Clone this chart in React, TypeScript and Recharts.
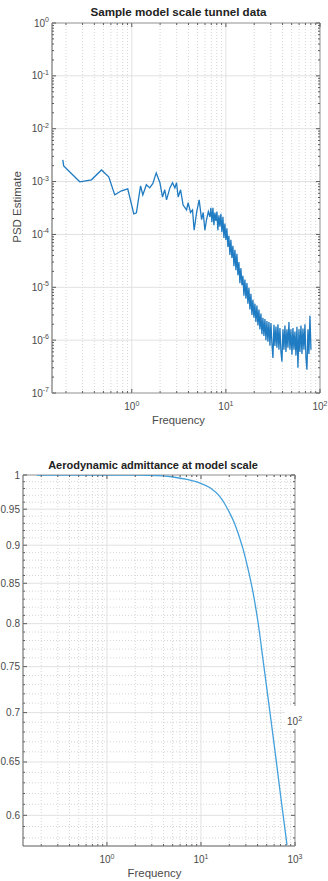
import React from "react";
import { LineChart, Line, XAxis, YAxis, ReferenceLine, ReferenceArea } from "recharts";

// PSD of the tunnel signal
const psdFreq = [
  0.185, 0.189, 0.28, 0.373, 0.476, 0.569, 0.659, 0.777, 0.906, 1.05, 1.12, 1.24, 1.31, 1.43, 1.55,
  1.67, 1.82, 1.99, 2.12, 2.24, 2.34, 2.54, 2.71, 2.87, 2.99, 3.11, 3.3, 3.51, 3.82, 3.97, 4.21,
  4.42, 4.6, 4.88, 5.2, 5.52, 5.74, 5.98, 6.23, 6.51,
  6.76, 6.93, 7.1, 7.28, 7.46, 7.64, 7.83, 8.03, 8.22, 8.43, 8.64, 8.85, 9.07, 9.3, 9.53, 9.76,
  10.0, 10.25, 10.5, 10.76, 11.03, 11.3, 11.58, 11.87, 12.17, 12.47, 12.78, 13.09, 13.42, 13.75,
  14.09, 14.44, 14.8, 15.17, 15.54, 15.93, 16.32, 16.73, 17.14, 17.57, 18.0, 18.45, 18.9, 19.37,
  19.85, 20.35, 20.85, 21.37, 21.9, 22.44, 23.0, 23.57, 24.15, 24.75, 25.36, 25.99, 26.64, 27.3,
  27.97, 28.67, 29.38, 30.1, 30.85, 31.62, 32.4, 33.2, 34.03, 34.87, 35.73, 36.62, 37.53, 38.46,
  39.41, 40.39, 41.39, 42.41, 43.46, 44.54, 45.64, 46.77, 47.93, 49.12, 50.34, 51.58, 52.86,
  54.17, 55.51, 56.89, 58.3, 59.74, 61.22, 62.74, 64.29, 65.88, 67.52, 69.19, 70.9, 72.66, 74.46,
  76.3, 78.19, 80.13,
];
const psdValue = [
  2.57e-3, 1.98e-3, 0.99e-3, 1.08e-3, 1.66e-3, 1.23e-3, 5.6e-4, 6.7e-4, 7.3e-4, 2.45e-4, 2.56e-4,
  8.3e-4, 5.6e-4, 8.7e-4, 7.6e-4, 9.1e-4, 1.46e-3, 9.5e-4, 5.1e-4, 7.0e-4, 4.5e-4, 7.6e-4, 9.5e-4,
  7.6e-4, 9.5e-4, 5.1e-4, 7.0e-4, 3.6e-4, 2.9e-4, 4.0e-4, 2.6e-4, 2.9e-4, 1.2e-4, 2.6e-4, 4.5e-4,
  1.9e-4, 2.6e-4, 1.2e-4, 1.9e-4, 2.7e-4,
  2.15e-4, 3.2e-4, 1.7e-4, 3.2e-4, 1.5e-4, 2.6e-4, 1.8e-4, 2.7e-4, 1.2e-4, 2.3e-4, 1.4e-4, 2.45e-4,
  1.1e-4, 2.15e-4, 8.6e-5, 1.6e-4, 7.9e-5, 1.3e-4, 5.8e-5, 9.4e-5, 4.1e-5, 7.9e-5, 3.6e-5, 6.1e-5,
  2.5e-5, 5.1e-5, 2.1e-5, 4.3e-5, 1.7e-5, 3.0e-5, 1.2e-5, 2.3e-5, 1.1e-5, 1.65e-5, 6.9e-6, 1.4e-5,
  6.1e-6, 1.2e-5, 4.9e-6, 9.8e-6, 3.8e-6, 7.5e-6, 3.0e-6, 5.8e-6, 2.65e-6, 4.9e-6, 2.2e-6, 4.5e-6,
  1.9e-6, 3.8e-6, 1.6e-6, 3.2e-6, 1.3e-6, 2.65e-6, 1.2e-6, 2.5e-6, 1.0e-6, 2.3e-6, 9.3e-7, 2.2e-6,
  7.8e-7, 2.1e-6, 8.5e-7, 4.6e-7, 1.95e-6, 7.8e-7, 1.8e-6, 7.2e-7, 2.0e-6, 6.6e-7, 1.7e-6, 6.0e-7,
  3.9e-7, 1.6e-6, 6.6e-7, 1.9e-6, 6.0e-7, 1.6e-6, 7.2e-7, 2.2e-6, 6.6e-7, 1.6e-6, 5.3e-7, 1.7e-6,
  6.6e-7, 1.45e-6, 5.1e-7, 1.8e-6, 3.0e-7, 1.6e-6, 6.0e-7, 1.9e-6, 5.5e-7, 1.65e-6, 6.6e-7, 2.0e-6,
  4.6e-7, 2.75e-7, 1.6e-6, 5.5e-7, 2.9e-6, 6.6e-7,
];

// aerodynamic admittance, same frequencies
const admFreq = [
  0.18, 0.5, 1, 2, 2.87, 5.04, 7.1, 9.76, 12.5, 15.9, 18.0, 20.3, 21.9, 26.0, 28.0, 31.6, 35.7, 40.4,
  45.7, 54.2, 62.8, 71.0, 82.2,
];
const admValue = [
  1, 1, 1, 0.9998, 0.9995, 0.997, 0.9933, 0.988, 0.981, 0.968, 0.957, 0.944, 0.935, 0.9085, 0.895,
  0.869, 0.839, 0.802, 0.758, 0.7, 0.653, 0.615, 0.574,
];

// ticks
const psdXMajor = [1, 10, 100];
const psdXExp = ["0", "1", "2"];
const psdYMajor = [1e-7, 1e-6, 1e-5, 1e-4, 1e-3, 1e-2, 1e-1, 1];
const psdYExp = ["-7", "-6", "-5", "-4", "-3", "-2", "-1", "0"];

const admXMajor = [1, 10, 100];
const admXExp = ["0", "1", "3"];
const admYMajor = [0.6, 0.65, 0.7, 0.75, 0.8, 0.85, 0.9, 0.95, 1];
const admYText = ["0.6", "0.65", "0.7", "0.75", "0.8", "0.85", "0.9", "0.95", "1"];

const logMinor = (decades: number[]) =>
  decades.flatMap((d) => [2, 3, 4, 5, 6, 7, 8, 9].map((m) => +(m * d).toPrecision(3)));
const xMinor = logMinor([0.1, 1, 10]);
const psdYMinor = logMinor([1e-7, 1e-6, 1e-5, 1e-4, 1e-3, 1e-2, 1e-1]);
const admYMinor = Array.from({ length: 42 }, (_, i) => 58 + i).filter((i) => i % 5 !== 0).map((i) => i / 100);

const psdData = psdFreq.map((f, i) => ({ f, v: psdValue[i] }));
const admData = admFreq.map((f, i) => ({ f, v: admValue[i] }));

const AXIS = "#5a5a5a";
const TEXT = "#4a4a4a";
const GRID = "#e1e1e1";
const MINOR = "#d6d6d6";
const FONT = "'Liberation Sans', Arial, Helvetica, sans-serif";

type Frame = { left: number; right: number; top: number; bottom: number };

const pow10 = (x: number, y: number, exp: string, anchor: "middle" | "end") => (
  <text x={x} y={y} textAnchor={anchor} fontSize={10} fill={TEXT} fontFamily={FONT}>
    10
    <tspan dy={-4.5} fontSize={7}>
      {exp}
    </tspan>
  </text>
);

function makeXTick(frame: Frame, majors: number[], exps: string[], labelY: number) {
  return (props: any) => {
    const { x, payload } = props;
    const i = majors.indexOf(payload.value);
    const len = i >= 0 ? 4 : 2;
    return (
      <g>
        <line x1={x} x2={x} y1={frame.bottom} y2={frame.bottom - len} stroke={AXIS} />
        <line x1={x} x2={x} y1={frame.top} y2={frame.top + len} stroke={AXIS} />
        {i >= 0 && pow10(x, labelY, exps[i], "middle")}
      </g>
    );
  };
}

function makeYTick(frame: Frame, majors: number[], label: (i: number, y: number) => React.ReactNode) {
  return (props: any) => {
    const { y, payload } = props;
    const i = majors.indexOf(payload.value);
    const len = i >= 0 ? 4 : 2;
    return (
      <g>
        <line x1={frame.left} x2={frame.left + len} y1={y} y2={y} stroke={AXIS} />
        <line x1={frame.right} x2={frame.right - len} y1={y} y2={y} stroke={AXIS} />
        {i >= 0 && label(i, y)}
      </g>
    );
  };
}

const psdFrame = { left: 52, right: 320, top: 23, bottom: 393 };
const admFrame = { left: 23, right: 295, top: 35, bottom: 406 };

const psdXDomain = [0.142, 100];
const psdYDomain = [1e-7, 1];
const admXDomain = [0.128, 100];
const admYDomain = [0.573, 1];

function PsdChart() {
  return (
    <LineChart width={328} height={440} data={psdData} margin={{ top: 23, right: 8, bottom: 17, left: 0 }}>
      <XAxis
        dataKey="f"
        type="number"
        scale="log"
        domain={psdXDomain}
        allowDataOverflow
        ticks={[...psdXMajor, ...xMinor]}
        interval={0}
        tick={makeXTick(psdFrame, psdXMajor, psdXExp, 410)}
        tickLine={false}
        axisLine={false}
        height={30}
      />
      <YAxis
        type="number"
        scale="log"
        domain={psdYDomain}
        allowDataOverflow
        ticks={[...psdYMajor, ...psdYMinor]}
        interval={0}
        tick={makeYTick(psdFrame, psdYMajor, (i, y) => pow10(49, y + 3.5, psdYExp[i], "end"))}
        tickLine={false}
        axisLine={false}
        width={52}
      />
      {xMinor.map((v) => (
        <ReferenceLine key={"xm" + v} x={v} stroke={MINOR} strokeDasharray="1 2" />
      ))}
      {psdXMajor.map((v) => (
        <ReferenceLine key={"xM" + v} x={v} stroke={GRID} />
      ))}
      {psdYMajor.map((v) => (
        <ReferenceLine key={"yM" + v} y={v} stroke={GRID} />
      ))}
      <ReferenceArea
        x1={psdXDomain[0]}
        x2={psdXDomain[1]}
        y1={psdYDomain[0]}
        y2={psdYDomain[1]}
        fill="none"
        fillOpacity={0}
        stroke={AXIS}
        ifOverflow="visible"
      />
      <Line type="linear" dataKey="v" stroke="#1f7bc2" strokeWidth={1.3} dot={false} isAnimationActive={false} />
    </LineChart>
  );
}

function AdmChart() {
  return (
    <LineChart width={328} height={441} data={admData} margin={{ top: 35, right: 33, bottom: 5, left: 0 }}>
      <XAxis
        dataKey="f"
        type="number"
        scale="log"
        domain={admXDomain}
        allowDataOverflow
        ticks={[...admXMajor, ...xMinor]}
        interval={0}
        tick={makeXTick(admFrame, admXMajor, admXExp, 423)}
        tickLine={false}
        axisLine={false}
        height={30}
      />
      <YAxis
        type="number"
        scale="log"
        domain={admYDomain}
        allowDataOverflow
        ticks={[...admYMajor, ...admYMinor]}
        interval={0}
        tick={makeYTick(admFrame, admYMajor, (i, y) => (
          <text x={20} y={y + 3.5} textAnchor="end" fontSize={10} fill={TEXT} fontFamily={FONT}>
            {admYText[i]}
          </text>
        ))}
        tickLine={false}
        axisLine={false}
        width={23}
      />
      {xMinor.map((v) => (
        <ReferenceLine key={"xm" + v} x={v} stroke={MINOR} strokeDasharray="1 2" />
      ))}
      {admYMinor.map((v) => (
        <ReferenceLine key={"ym" + v} y={v} stroke={MINOR} strokeDasharray="1 2" />
      ))}
      {admXMajor.map((v) => (
        <ReferenceLine key={"xM" + v} x={v} stroke={GRID} />
      ))}
      {admYMajor.map((v) => (
        <ReferenceLine key={"yM" + v} y={v} stroke={GRID} />
      ))}
      <ReferenceArea
        x1={admXDomain[0]}
        x2={admXDomain[1]}
        y1={admYDomain[0]}
        y2={admYDomain[1]}
        fill="none"
        fillOpacity={0}
        stroke={AXIS}
        ifOverflow="visible"
      />
      <Line type="monotone" dataKey="v" stroke="#42a0dc" strokeWidth={1.3} dot={false} isAnimationActive={false} />
    </LineChart>
  );
}

export default function App() {
  return (
    <div style={{ position: "absolute", left: 0, top: 0, width: 328, height: 881, overflow: "hidden", background: "#fff" }}>
      <div style={{ position: "absolute", left: 0, top: 0 }}>
        <PsdChart />
      </div>
      <div style={{ position: "absolute", left: 0, top: 440 }}>
        <AdmChart />
      </div>
      <svg width={328} height={881} style={{ position: "absolute", left: 0, top: 0, pointerEvents: "none" }}>
        <g fontFamily={FONT} fill="#222">
          <text x={178.5} y={16} textAnchor="middle" fontSize={11.6} fontWeight="bold">
            Sample model scale tunnel data
          </text>
          <text x={178.5} y={424} textAnchor="middle" fontSize={11.2} fill={TEXT}>
            Frequency
          </text>
          <text x={21} y={207} textAnchor="middle" fontSize={11.5} fill={TEXT} transform="rotate(-90 21 207)">
            PSD Estimate
          </text>
          <text x={153} y={469} textAnchor="middle" fontSize={11} fontWeight="bold">
            Aerodynamic admittance at model scale
          </text>
          <text x={154.5} y={877} textAnchor="middle" fontSize={11.4} fill={TEXT}>
            Frequency
          </text>
          <rect x={285} y={706} width={20} height={23} fill="#fff" />
          <text x={287} y={725} fontSize={10} fill={TEXT}>
            10
            <tspan dy={-4.5} fontSize={7}>
              2
            </tspan>
          </text>
        </g>
      </svg>
    </div>
  );
}
